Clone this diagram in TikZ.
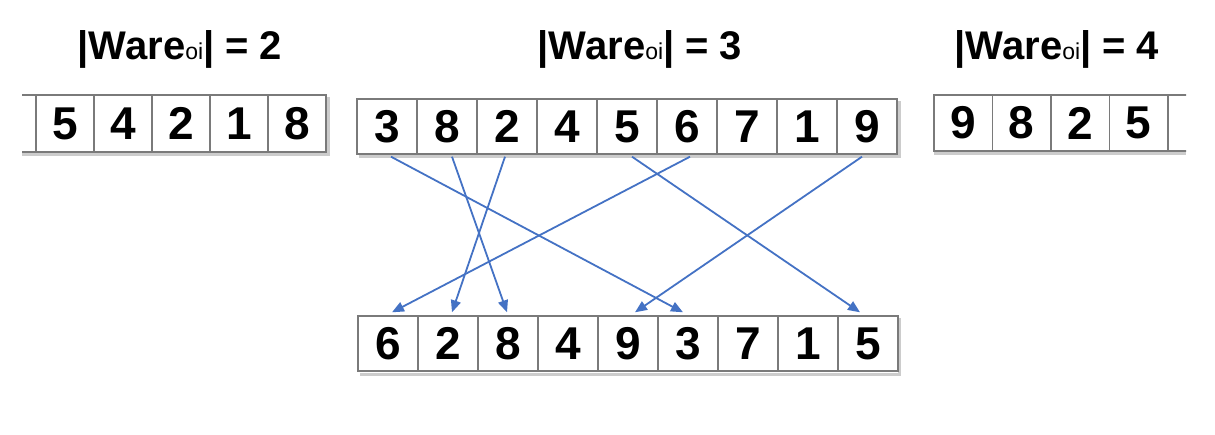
\documentclass[tikz,border=0pt]{standalone}
\usepackage{fontspec}
\setmainfont{Liberation Sans}
\usetikzlibrary{arrows.meta}
\definecolor{arrblue}{HTML}{4472C4}
\definecolor{cellgray}{HTML}{7A7A7A}
\tikzset{
  cell/.style={draw=cellgray, line width=1.4pt, minimum width=59pt, minimum height=55pt,
    inner sep=0pt, font=\fontsize{46}{46}\selectfont\bfseries, fill=white},
  title/.style={font=\fontsize{40}{40}\selectfont, inner sep=0pt, anchor=base},
  arr/.style={draw=arrblue, line width=1.8pt, -{Triangle[length=12pt,width=10pt]}},
  shadow/.style={draw=gray!40, line width=3pt}
}
\newcommand{\waretitle}[1]{\textbf{|Ware}{\fontsize{23}{23}\selectfont oi}\textbf{|~= #1}}
\begin{document}
\begin{tikzpicture}[x=1pt,y=-1pt]
\useasboundingbox (0,0) rectangle (1215,435);
% titles
\node[title] (T2) at (180,60) {\waretitle{2}};
\node[title] (T3) at (640,60) {\waretitle{3}};
\node[title] (T4) at (1057,60) {\waretitle{4}};
% left array (clipped)
\begin{scope}
\clip (22,80) rectangle (345,170);
\draw[shadow] (22,155) -- (328,155) -- (328,97);
\foreach \d [count=\i from 0] in {{},5,4,2,1,8} {
  \node[cell, minimum width=58pt, minimum height=57pt] (L\i) at (7+\i*58,123.5) {\d};
}
\end{scope}
% right array (clipped)
\begin{scope}
\clip (925,80) rectangle (1186,170);
\draw[shadow] (934,154) -- (1186,154);
\foreach \d [count=\i from 1] in {9,8,2,5,{}} {
  \node[cell, minimum width=58.5pt, minimum height=56pt] (R\i) at (934+29.25+\i*58.5-58.5,123) {\d};
}
\end{scope}
% middle top array
\draw[shadow] (359,157) -- (899,157) -- (899,101);
\foreach \d [count=\i from 1] in {3,8,2,4,5,6,7,1,9} {
  \node[cell, minimum width=60pt] (t\i) at (357+\i*60-30,126.5) {\d};
}
% middle bottom array
\draw[shadow] (360,374) -- (899,374) -- (899,318);
\foreach \d [count=\i from 1] in {6,2,8,4,9,3,7,1,5} {
  \node[cell, minimum width=60pt] (b\i) at (358+\i*60-30,343.5) {\d};
}
% arrows
\draw[arr] ([xshift=4pt,yshift=-2pt]t1.south) -- ([xshift=-5pt,yshift=3pt]b6.north);
\draw[arr] ([xshift=5pt,yshift=-2pt]t2.south) -- ([xshift=-1pt,yshift=3pt]b3.north);
\draw[arr] ([xshift=-2pt,yshift=-2pt]t3.south) -- ([xshift=4pt,yshift=3pt]b2.north);
\draw[arr] ([xshift=5pt,yshift=-2pt]t5.south) -- ([xshift=-8pt,yshift=3pt]b9.north);
\draw[arr] ([xshift=3pt,yshift=-2pt]t6.south) -- ([xshift=4pt,yshift=3pt]b1.north);
\draw[arr] ([xshift=-5pt,yshift=-2pt]t9.south) -- ([xshift=7pt,yshift=3pt]b5.north);
\end{tikzpicture}
\end{document}
